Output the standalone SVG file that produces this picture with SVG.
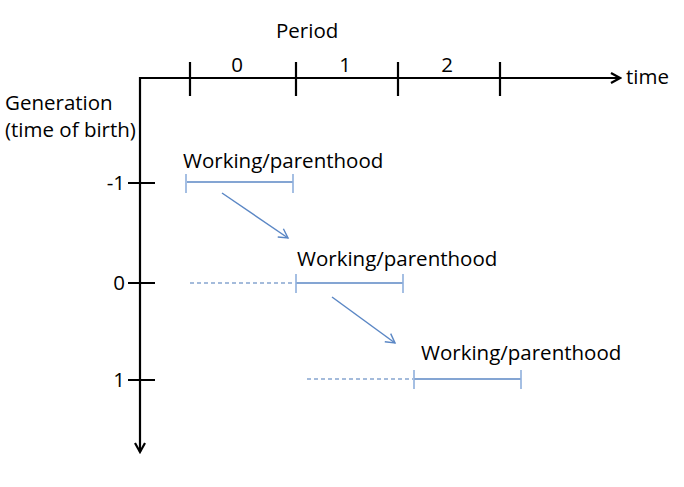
<svg xmlns="http://www.w3.org/2000/svg" width="684" height="487" viewBox="0 0 684 487">
<style>
text{font-family:"Open Sans","Liberation Sans",Arial,sans-serif;font-size:20.5px;fill:#000}
.ax{stroke:#000;stroke-width:2.2;fill:none}
.seg{stroke:#5b87c5;stroke-width:1.5;fill:none}
.tk{stroke:#8fb0dc;stroke-width:1.6}
.dash{stroke:#4a78b8;stroke-width:1.2;stroke-dasharray:4,3;fill:none}
.m{text-anchor:middle}
.e{text-anchor:end}
</style>
<defs>
<marker id="ah" markerWidth="12" markerHeight="12" refX="10" refY="6" orient="auto" markerUnits="userSpaceOnUse">
<path d="M1,1 L10,6 L1,11" fill="none" stroke="#000" stroke-width="2.2"/>
</marker>
<marker id="bh" markerWidth="12" markerHeight="12" refX="10" refY="6" orient="auto" markerUnits="userSpaceOnUse">
<path d="M1,1 L10,6 L1,11" fill="none" stroke="#5b87c5" stroke-width="1.4"/>
</marker>
</defs>
<g id="axes">
<path class="ax" d="M140,78 L620,78" marker-end="url(#ah)"/>
<path class="ax" d="M140,77 L140,452" marker-end="url(#ah)"/>
<path class="ax" d="M190,62 V96 M296,62 V96 M398,62 V96 M500,62 V96"/>
<path class="ax" d="M128,183 H155 M128,283 H155 M128,380 H155"/>
<text x="276" y="38">Period</text>
<text class="m" x="237" y="72">0</text>
<text class="m" x="345" y="72">1</text>
<text class="m" x="447" y="72">2</text>
<text x="626" y="84">time</text>
<text x="5" y="110">Generation</text>
<text x="5" y="137">(time of birth)</text>
<text class="e" x="125" y="190">-1</text>
<text class="e" x="125" y="290">0</text>
<text class="e" x="125" y="387">1</text>
</g>
<g id="gen-1">
<text x="183" y="168">Working/parenthood</text>
<path class="seg" d="M187,182 H293"/>
<path class="tk" d="M186,174 V193 M293,174 V193"/>
</g>
<g id="gen0">
<text x="297" y="266">Working/parenthood</text>
<path class="dash" d="M190,283 H295"/>
<path class="seg" d="M296,283 H403"/>
<path class="tk" d="M296,274 V293 M403,274 V293"/>
</g>
<g id="gen1">
<text x="421" y="360">Working/parenthood</text>
<path class="dash" d="M307,379 H413"/>
<path class="seg" d="M414,379 H521"/>
<path class="tk" d="M414,370 V389 M521,370 V389"/>
</g>
<g id="connectors">
<path class="seg" d="M222,193 L288,238" marker-end="url(#bh)"/>
<path class="seg" d="M332,297 L395,343" marker-end="url(#bh)"/>
</g>
</svg>
